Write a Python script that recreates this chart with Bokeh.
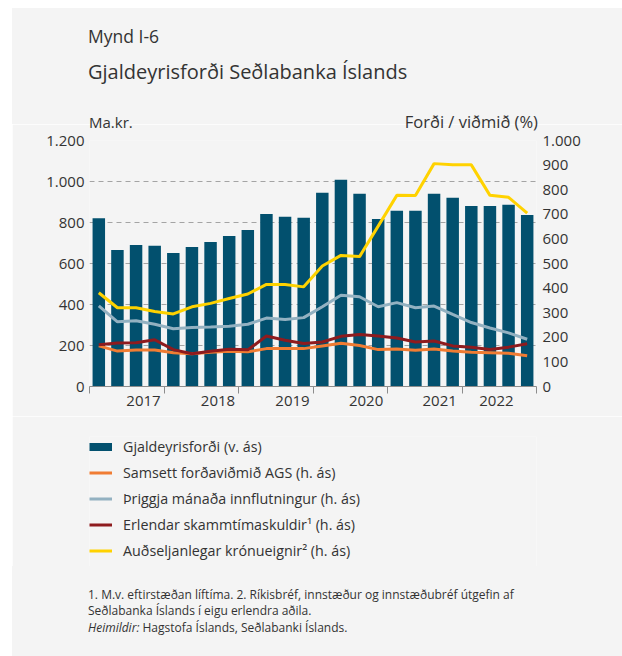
import numpy as np
from bokeh.plotting import figure
from bokeh.layouts import column, row
from bokeh.models import (Range1d, LinearAxis, FixedTicker, Legend, LegendItem,
                          Div, Spacer)
from bokeh.embed import file_html
from bokeh.resources import INLINE

# ---- data (quarterly, 2016Q4 - 2022Q3) ----
quarters = ["2016Q4",
            "2017Q1", "2017Q2", "2017Q3", "2017Q4",
            "2018Q1", "2018Q2", "2018Q3", "2018Q4",
            "2019Q1", "2019Q2", "2019Q3", "2019Q4",
            "2020Q1", "2020Q2", "2020Q3", "2020Q4",
            "2021Q1", "2021Q2", "2021Q3", "2021Q4",
            "2022Q1", "2022Q2", "2022Q3"]
reserves = [821, 666, 690, 686, 651, 681, 705, 734, 764, 842, 828, 823,
            945, 1009, 940, 817, 857, 857, 940, 921, 881, 881, 886, 837]
ags_metric = [165, 144, 148, 148, 137, 133, 139, 143, 141, 154, 154, 154,
              165, 176, 167, 150, 152, 147, 152, 144, 139, 137, 135, 125]
imports_3m = [328, 263, 267, 253, 235, 240, 242, 245, 253, 278, 272, 280,
              324, 371, 365, 324, 341, 320, 327, 293, 260, 238, 218, 192]
short_debt = [170, 177, 178, 190, 150, 133, 143, 151, 149, 205, 188, 175,
              181, 204, 211, 205, 197, 181, 185, 165, 160, 150, 160, 174]
liquid_isk = [381, 320, 320, 305, 295, 324, 338, 358, 376, 415, 415, 405,
              490, 533, 528, 652, 777, 776, 906, 901, 901, 777, 769, 705]

year_labels = ["2017", "2018", "2019", "2020", "2021", "2022"]
year_label_pos = [2.9, 6.9, 10.9, 14.85, 18.8, 21.85]
left_ticks = [0, 200, 400, 600, 800, 1000, 1200]
right_ticks = [0, 100, 200, 300, 400, 500, 600, 700, 800, 900, 1000]

series_names = ["Gjaldeyrisforði (v. ás)",
                "Samsett forðaviðmið AGS (h. ás)",
                "Þriggja mánaða innflutningur (h. ás)",
                "Erlendar skammtímaskuldir\u00b9 (h. ás)",
                "Auðseljanlegar krónueignir\u00b2 (h. ás)"]

fig_label = "Mynd I-6"
title_text = "Gjaldeyrisforði Seðlabanka Íslands"
left_title = "Ma.kr."
right_title = "Forði / viðmið (%)"
note_1 = "1. M.v. eftirstæðan líftíma. 2. Ríkisbréf, innstæður og innstæðubréf útgefin af"
note_2 = "Seðlabanka Íslands í eigu erlendra aðila."
source_head = "Heimildir:"
source_text = "Hagstofa Íslands, Seðlabanki Íslands."

# ---- style ----
FONT = "Open Sans"
BG = "#F4F4F4"
TXT = "#333333"
C_BAR = "#02506E"
C_AGS = "#F07C33"
C_IMP = "#93B1C1"
C_DEBT = "#8E1B1E"
C_ISK = "#FFD200"

W = 610          # content width (12px white strip on the left)
H_HEAD = 124
H_MAIN = 292
H_LEG = 150
H_FOOT = 90


def txt(s, left, top, size, extra=""):
    return (f'<div style="position:absolute;left:{left}px;top:{top}px;'
            f'font-family:\'{FONT}\';font-size:{size}px;line-height:1;'
            f'color:{TXT};white-space:nowrap;{extra}">{s}</div>')


# ---- header ----
head_html = (f'<div style="position:relative;width:{W}px;height:{H_HEAD}px;overflow:visible;">'
             f'<div style="position:absolute;left:0;top:8px;width:{W}px;'
             f'height:{H_HEAD - 8}px;background:{BG};"></div>'
             + txt(fig_label, 76, 27.5, 17.5)
             + txt(title_text, 76, 62, 20)
             + txt(left_title, 77, 115, 15)
             + txt(right_title, 0, 113.5, 16.5, extra="left:auto;right:84px;")
             + '</div>')
header = Div(text=head_html, width=W, height=H_HEAD, margin=0,
             styles={"z-index": "5", "overflow": "visible"})

# ---- main chart ----
x = np.arange(len(quarters)) + 0.5

p = figure(width=W, height=H_MAIN, x_range=Range1d(0, len(quarters)),
           y_range=Range1d(0, 1200), output_backend="svg",
           toolbar_location=None,
           min_border_left=75, min_border_right=86,
           min_border_top=16, min_border_bottom=30)
p.background_fill_color = BG
p.border_fill_color = BG
p.outline_line_color = None
p.extra_y_ranges = {"right": Range1d(0, 1000)}

p.xgrid.grid_line_color = None
p.ygrid.ticker = FixedTicker(ticks=left_ticks)
p.ygrid.grid_line_color = "#A4A4A4"
p.ygrid.grid_line_dash = "5 4"
p.ygrid.grid_line_width = 1

ya = p.yaxis[0]
ya.ticker = FixedTicker(ticks=left_ticks)
ya.major_label_overrides = {t: f"{t:,}".replace(",", ".") for t in left_ticks}
ya.axis_line_color = None
ya.major_tick_line_color = None
ya.major_tick_in = 0
ya.major_tick_out = 0
ya.minor_tick_line_color = None
ya.major_label_text_font = FONT
ya.major_label_text_font_size = "15px"
ya.major_label_text_color = TXT
ya.major_label_standoff = 5

ra = LinearAxis(y_range_name="right", ticker=FixedTicker(ticks=right_ticks))
ra.major_label_overrides = {t: f"{t:,}".replace(",", ".") for t in right_ticks}
ra.axis_line_color = None
ra.major_tick_line_color = None
ra.major_tick_in = 0
ra.major_tick_out = 0
ra.minor_tick_line_color = None
ra.major_label_text_font = FONT
ra.major_label_text_font_size = "15px"
ra.major_label_text_color = TXT
ra.major_label_standoff = 6
p.add_layout(ra, "right")

xa = p.xaxis[0]
xa.ticker = FixedTicker(ticks=year_label_pos,
                        minor_ticks=list(range(0, len(quarters) + 1, 4)))
xa.major_label_overrides = dict(zip(year_label_pos, year_labels))
xa.major_tick_line_color = None
xa.major_tick_in = 0
xa.major_tick_out = 0
xa.minor_tick_line_color = "#8C8C8C"
xa.minor_tick_in = 0
xa.minor_tick_out = 7
xa.axis_line_color = "#8C8C8C"
xa.axis_line_width = 1.2
xa.major_label_text_font = FONT
xa.major_label_text_font_size = "15px"
xa.major_label_text_color = TXT
xa.major_label_standoff = 2

p.vbar(x=x, top=reserves, width=0.67, fill_color=C_BAR, line_color=None)
p.line(x, ags_metric, y_range_name="right", line_color=C_AGS, line_width=3)
p.line(x, imports_3m, y_range_name="right", line_color=C_IMP, line_width=3)
p.line(x, short_debt, y_range_name="right", line_color=C_DEBT, line_width=3)
p.line(x, liquid_isk, y_range_name="right", line_color=C_ISK, line_width=3)

# ---- legend panel (its swatch renderers lie outside this panel's ranges) ----
lg = figure(width=W, height=H_LEG, x_range=Range1d(-2, -1), y_range=Range1d(-2, -1),
            x_axis_type=None, y_axis_type=None, output_backend="svg",
            toolbar_location=None, min_border_left=77, min_border_top=20,
            min_border_right=0, min_border_bottom=0)
lg.background_fill_color = BG
lg.border_fill_color = BG
lg.outline_line_color = None
lg.xgrid.visible = False
lg.ygrid.visible = False
series = [reserves, ags_metric, imports_3m, short_debt, liquid_isk]
colors = [C_BAR, C_AGS, C_IMP, C_DEBT, C_ISK]
items = []
for name, vals, c in zip(series_names, series, colors):
    r = lg.line(x, vals, line_color=c, line_width=8 if c == C_BAR else 3)
    items.append(LegendItem(label=name, renderers=[r]))
legend = Legend(items=items, location="top_left", orientation="vertical",
                glyph_width=23, glyph_height=21, label_height=21,
                spacing=5, padding=0, margin=0, label_standoff=11,
                border_line_color=None, background_fill_alpha=0,
                label_text_font=FONT, label_text_font_size="14.3px",
                label_text_color=TXT)
lg.add_layout(legend)

# ---- footer ----
foot_html = (f'<div style="position:relative;width:{W}px;height:{H_FOOT}px;'
             f'background:{BG};">'
             + txt(note_1, 76, 22.8, 12)
             + txt(note_2, 76, 39.4, 12)
             + txt(f'<i>{source_head}</i> {source_text}', 76, 56, 12)
             + '</div>')
footer = Div(text=foot_html, width=W, height=H_FOOT, margin=0)

content = column(header, p, lg, footer, spacing=0)
layout = row(Spacer(width=12, height=656), content, spacing=0)

open("out.html", "w").write(file_html(layout, INLINE))
